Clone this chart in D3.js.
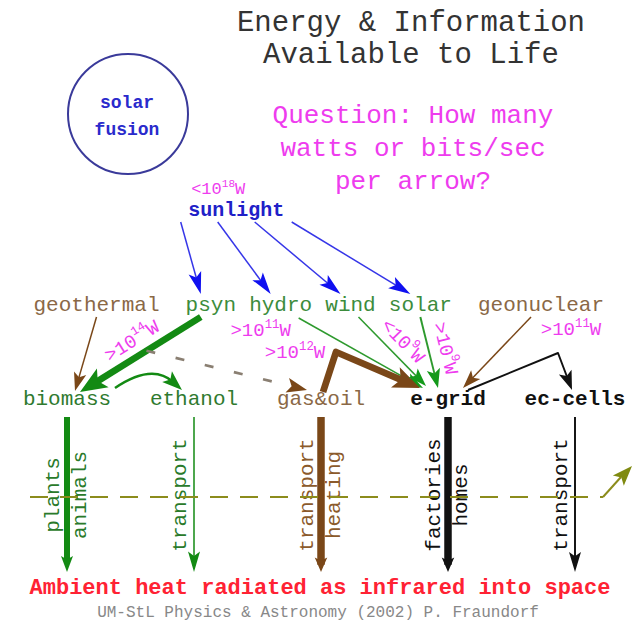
<!DOCTYPE html>
<html>
<head>
<meta charset="utf-8">
<script src="https://cdn.jsdelivr.net/npm/d3@7"></script>
<style>
body { margin: 0; background: #fff; }
text { font-family: "Liberation Mono", "DejaVu Sans Mono", monospace; }
</style>
</head>
<body>
<svg id="chart" width="636" height="624"></svg>
<script>
var titleLines = ["Energy & Information", "Available to Life"];
var questionLines = ["Question: How many", "watts or bits/sec", "per arrow?"];
var sunText = ["solar", "fusion"];
var sunSource = "sunlight";
var sunSign = "<", sunExp = "18";

// middle row is one line of monospaced words, with spaces in between
var sources = ["geothermal", "psyn", "hydro", "wind", "solar", "geonuclear"];
var sourceSpace = [0, 2, 1, 1, 1, 2];
var carriers = ["biomass", "ethanol", "gas&oil", "e-grid", "ec-cells"];

// end uses (vertical arrows down to the ambient heat)
var uses = [["plants", "animals"], ["transport"], ["transport", "heating"], ["factories", "homes"], ["transport"]];
var useWeight = [4, 1, 5, 5, 1.3];

// flows between nodes
var flowFrom   = ["sunlight", "sunlight", "sunlight", "sunlight", "geothermal", "psyn", "biomass", "biomass", "hydro", "gas&oil", "wind", "solar", "geonuclear", "e-grid"];
var flowTo     = ["psyn", "hydro", "wind", "solar", "biomass", "biomass", "ethanol", "gas&oil", "e-grid", "e-grid", "e-grid", "e-grid", "e-grid", "ec-cells"];
var flowShape  = ["line", "line", "line", "line", "line", "line", "curve", "dashed", "line", "elbow", "line", "line", "line", "elbow"];
var flowWeight = [1, 1, 1, 1, 1, 4.5, 1.7, 1.8, 1, 4.5, 1, 1.3, 1, 1.3];
var flowSign   = ["", "", "", "", "", ">", "", "", ">", ">", "<", ">", ">", ""];
var flowExp    = ["", "", "", "", "", "14", "", "", "11", "12", "9", "9", "11", ""];

var ambientText = "Ambient heat radiated as infrared into space";
var creditText = "UM-StL Physics & Astronomy (2002) P. Fraundorf";

var svg = d3.select("#chart");

var BLUE = "#3636e8", BLUEHEAD = "#1010f0", GREEN = "#138a13", GREENTXT = "#3c8c3c",
    BROWN = "#7a4718", BROWNTXT = "#8a6846", MAGENTA = "#ee3cee", BLACK = "#111", OLIVE = "#8c8c1c";

function family(name) {
  if (name === "sunlight") return "sun";
  if (name === "geothermal" || name === "geonuclear" || name === "gas&oil") return "brown";
  if (name === "e-grid" || name === "ec-cells") return "black";
  return "green";
}
var famLine = { sun: BLUE, green: GREEN, brown: BROWN, black: BLACK };
var famText = { sun: "#2020c8", green: GREENTXT, brown: BROWNTXT, black: BLACK };

// layout scales
var sourceStart = [], acc = 0;
sources.forEach(function (s, i) { acc += sourceSpace[i]; sourceStart.push(acc); acc += s.length; });
var colX = d3.scaleLinear().domain([0, acc]).range([33, 33 + acc * 12.7]);
var carrierX = d3.scalePoint().domain(carriers).range([67, 575]);
var tierY = d3.scaleOrdinal().domain(["sun", "source", "carrier", "sink"]).range([216, 311, 405, 572]);
var lineW = d3.scaleLinear().domain([1, 5]).range([1.5, 7.5]);

function node(name) {
  if (name === "sunlight") return { x: colX(sourceStart[1] + 4), y: tierY("sun") };
  var i = sources.indexOf(name);
  if (i >= 0) return { x: colX(sourceStart[i] + name.length / 2), y: tierY("source") };
  return { x: carrierX(name), y: tierY("carrier") };
}

function arrowHead(g, tip, from, len, wid, color) {
  var a = Math.atan2(tip.y - from.y, tip.x - from.x);
  var c = Math.cos(a), s = Math.sin(a);
  var bx = tip.x - len * c, by = tip.y - len * s;
  var nx = -s * wid / 2, ny = c * wid / 2;
  var ix = tip.x - len * 0.78 * c, iy = tip.y - len * 0.78 * s;
  g.append("path")
    .attr("d", "M" + tip.x + "," + tip.y + "L" + (bx + nx) + "," + (by + ny) + "L" + ix + "," + iy + "L" + (bx - nx) + "," + (by - ny) + "Z")
    .attr("fill", color);
}

function powerText(sel, sign, exp, size) {
  sel.append("tspan").text(sign + "10");
  sel.append("tspan").attr("dy", -size * 0.4).attr("font-size", size * 0.65).text(exp);
  sel.append("tspan").attr("dy", size * 0.4).text("W");
}

// title
svg.append("g").selectAll("text").data(titleLines).enter().append("text")
  .attr("x", 411).attr("y", function (d, i) { return 31 + i * 32; })
  .attr("text-anchor", "middle").attr("font-size", 29).attr("fill", "#333")
  .text(function (d) { return d; });

// question
svg.append("g").selectAll("text").data(questionLines).enter().append("text")
  .attr("x", 413).attr("y", function (d, i) { return 123 + i * 33; })
  .attr("text-anchor", "middle").attr("font-size", 26).attr("fill", MAGENTA)
  .text(function (d) { return d; });

// the sun
svg.append("circle").attr("cx", 128).attr("cy", 114).attr("r", 60)
  .attr("fill", "none").attr("stroke", "#3a3a9a").attr("stroke-width", 2);
svg.append("g").selectAll("text").data(sunText).enter().append("text")
  .attr("x", 127).attr("y", function (d, i) { return 108 + i * 27; })
  .attr("text-anchor", "middle").attr("font-size", 18).attr("font-weight", "bold").attr("fill", "#2a2acc")
  .text(function (d) { return d; });

// sunlight label
var sun = node(sunSource);
svg.append("text").attr("x", sun.x).attr("y", sun.y)
  .attr("text-anchor", "middle").attr("font-size", 20).attr("font-weight", "bold").attr("fill", "#2020c8")
  .text(sunSource);
svg.append("text").attr("x", sun.x - 18).attr("y", sun.y - 22)
  .attr("text-anchor", "middle").attr("font-size", 17).attr("fill", MAGENTA)
  .call(powerText, sunSign, sunExp, 17);

// node labels
svg.append("g").selectAll("text").data(sources).enter().append("text")
  .attr("x", function (d) { return node(d).x; }).attr("y", tierY("source"))
  .attr("text-anchor", "middle").attr("font-size", 21)
  .attr("fill", function (d) { return famText[family(d)]; })
  .text(function (d) { return d; });
svg.append("g").selectAll("text").data(carriers).enter().append("text")
  .attr("x", function (d) { return node(d).x; }).attr("y", tierY("carrier"))
  .attr("text-anchor", "middle").attr("font-size", 21)
  .attr("font-weight", function (d) { return family(d) === "black" ? "bold" : "normal"; })
  .attr("fill", function (d) { return family(d) === "green" ? "#2f7a2f" : famText[family(d)]; })
  .text(function (d) { return d; });

// flow geometry
var sunIndex = 0;
function flowPoints(i) {
  var s = node(flowFrom[i]), t = node(flowTo[i]);
  if (flowFrom[i] === "sunlight") {
    var k = sunIndex++;
    return [{ x: s.x + (k - 1.5) * 37, y: s.y + 6 }, { x: t.x - 10, y: t.y - 17 }];
  }
  switch (i) {
    case 4: return [{ x: s.x, y: s.y + 6 }, { x: t.x + 8, y: t.y - 14 }];
    case 5: return [{ x: s.x - 10, y: s.y + 6 }, { x: t.x + 13, y: t.y - 13 }];
    case 6: return [{ x: s.x + 48, y: t.y - 17 }, { x: s.x + 85, y: t.y - 42 }, { x: t.x - 12, y: t.y - 15 }];
    case 7:
      var p = flowPoints(5);
      return [{ x: p[0].x + 0.45 * (p[1].x - p[0].x), y: p[0].y + 0.45 * (p[1].y - p[0].y) }, { x: t.x - 14, y: t.y - 15 }];
    case 8: return [{ x: s.x + 18, y: s.y + 7 }, { x: t.x - 25, y: t.y - 17 }];
    case 9: return [{ x: s.x + 2, y: s.y - 13 }, { x: s.x + 15, y: s.y - 53 }, { x: t.x - 28, y: t.y - 17 }];
    case 10: return [{ x: s.x + 8, y: s.y + 6 }, { x: t.x - 22, y: t.y - 19 }];
    case 11: return [{ x: s.x, y: s.y + 6 }, { x: t.x - 10, y: t.y - 17 }];
    case 12: return [{ x: s.x - 10, y: s.y + 6 }, { x: t.x + 15, y: t.y - 17 }];
    default: return [{ x: s.x + 20, y: s.y - 15 }, { x: s.x + 110, y: s.y - 52 }, { x: t.x - 3, y: t.y - 15 }];
  }
}

var flowG = svg.append("g");
var geo = flowFrom.map(function (d, i) { return flowPoints(i); });

flowFrom.forEach(function (from, i) {
  var pts = geo[i];
  var fam = family(from);
  var w = lineW(flowWeight[i]);
  var color = famLine[fam];
  var headColor = fam === "sun" ? BLUEHEAD : color;
  if (flowShape[i] === "dashed") { color = "#8a7f72"; headColor = BROWN; }
  if (fam === "green" && flowTo[i] === "e-grid") { color = "#2e9a2e"; headColor = "#14991a"; }
  var len = fam === "sun" ? 22 : 16 + 1.6 * w;
  var wid = fam === "sun" ? 13 : 10 + 1.8 * w;
  var tip = pts[pts.length - 1], prev = pts[pts.length - 2];
  var a = Math.atan2(tip.y - prev.y, tip.x - prev.x);
  var end = { x: tip.x - len * 0.6 * Math.cos(a), y: tip.y - len * 0.6 * Math.sin(a) };
  var path = d3.path();
  path.moveTo(pts[0].x, pts[0].y);
  if (flowShape[i] === "curve") path.quadraticCurveTo(pts[1].x, pts[1].y, end.x, end.y);
  else {
    for (var j = 1; j < pts.length - 1; j++) path.lineTo(pts[j].x, pts[j].y);
    path.lineTo(end.x, end.y);
  }
  flowG.append("path").attr("d", path.toString())
    .attr("fill", "none").attr("stroke", color).attr("stroke-width", w)
    .attr("stroke-linejoin", "round")
    .attr("stroke-dasharray", flowShape[i] === "dashed" ? "9,21" : null);
  arrowHead(flowG, tip, prev, len, wid, headColor);
});

// power labels on flows
var labelPlace = {
  5: { rot: true, off: 15 },
  8: { at: 0, dx: -38, dy: 18 },
  9: { at: 1, dx: -41, dy: 6 },
  10: { rot: true, off: 14 },
  11: { rot: true, off: 16 },
  12: { at: 0, dx: 40, dy: 18 }
};
flowExp.forEach(function (exp, i) {
  if (!exp) return;
  var pl = labelPlace[i], pts = geo[i];
  var t = svg.append("text").attr("font-size", 19).attr("fill", MAGENTA).attr("text-anchor", "middle");
  if (pl.rot) {
    var p0 = pts[0], p1 = pts[pts.length - 1];
    var a = Math.atan2(p1.y - p0.y, p1.x - p0.x);
    if (a > Math.PI / 2) a -= Math.PI;
    if (a < -Math.PI / 2) a += Math.PI;
    var mx = (p0.x + p1.x) / 2 + pl.off * Math.sin(a), my = (p0.y + p1.y) / 2 - pl.off * Math.cos(a);
    t.attr("dominant-baseline", "central")
      .attr("transform", "translate(" + mx + "," + my + ")rotate(" + (a * 180 / Math.PI) + ")");
  } else {
    var q = pts[pl.at];
    t.attr("x", q.x + pl.dx).attr("y", q.y + pl.dy);
  }
  t.call(powerText, flowSign[i], exp, 19);
});

// end uses
var useTop = tierY("carrier") + 12, useBottom = tierY("sink");
var useG = svg.append("g");
carriers.forEach(function (c, i) {
  var x = node(c).x, fam = family(c);
  var w = lineW(useWeight[i]);
  var color = famLine[fam];
  var len = 22 - w, wid = Math.max(12, w + 5);
  useG.append("line").attr("x1", x).attr("x2", x).attr("y1", useTop).attr("y2", useBottom - len * 0.5)
    .attr("stroke", color).attr("stroke-width", w);
  arrowHead(useG, { x: x, y: useBottom }, { x: x, y: useTop }, len, wid, color);
  uses[i].forEach(function (u, k) {
    var lx = k === 0 ? x - 14 : x + 13;
    useG.append("text")
      .attr("transform", "translate(" + lx + ",495)rotate(-90)")
      .attr("text-anchor", "middle").attr("dominant-baseline", "central")
      .attr("font-size", 21).attr("fill", fam === "green" ? "#2a7a2a" : (fam === "brown" ? "#8b5a2b" : BLACK))
      .text(u);
  });
});

// dashed line of radiated heat / information leaving
var dashY = 497;
svg.append("line").attr("x1", 30).attr("x2", 603).attr("y1", dashY).attr("y2", dashY)
  .attr("stroke", OLIVE).attr("stroke-width", 2).attr("stroke-dasharray", "18,12");
svg.append("line").attr("x1", 603).attr("y1", dashY).attr("x2", 621).attr("y2", dashY - 20)
  .attr("stroke", OLIVE).attr("stroke-width", 2);
arrowHead(svg, { x: 632, y: dashY - 31 }, { x: 603, y: dashY }, 20, 15, "#7f8a10");

// footer
svg.append("text").attr("x", 320).attr("y", 594).attr("text-anchor", "middle")
  .attr("font-size", 22).attr("font-weight", "bold").attr("fill", "#ff2233").text(ambientText);
svg.append("text").attr("x", 318).attr("y", 617).attr("text-anchor", "middle")
  .attr("font-size", 16).attr("fill", "#888").text(creditText);
</script>
</body>
</html>
